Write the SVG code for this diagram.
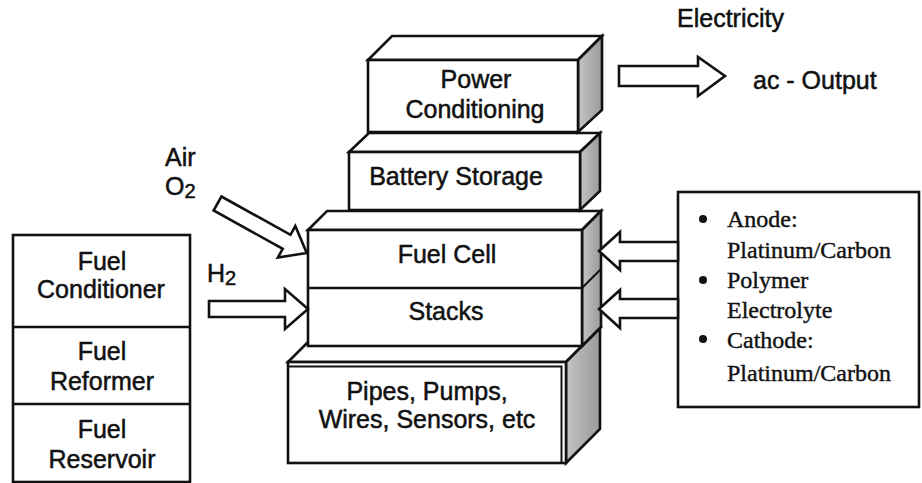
<svg xmlns="http://www.w3.org/2000/svg" width="922" height="483" viewBox="0 0 922 483">
<defs>
<linearGradient id="side" x1="0" y1="0" x2="1" y2="0">
<stop offset="0" stop-color="#c4c4c4"/>
<stop offset="1" stop-color="#9a9a9a"/>
</linearGradient>
</defs>
<style>
.ln{fill:#fff;stroke:#111;stroke-width:2.6;stroke-linejoin:miter}
.sd{fill:url(#side);stroke:#111;stroke-width:2.6}
.ar{fill:#fff;stroke:#111;stroke-width:2.6;stroke-linejoin:miter}
.t{font-family:"Liberation Sans",Arial,sans-serif;font-size:25px;fill:#111;stroke:#111;stroke-width:0.5;text-anchor:middle}
.tl{font-family:"Liberation Sans",Arial,sans-serif;font-size:25px;fill:#111;stroke:#111;stroke-width:0.5}
.s{font-family:"Liberation Serif","Times New Roman",serif;font-size:24px;fill:#111;stroke:#111;stroke-width:0.4}
</style>
<rect width="922" height="483" fill="#fff"/>

<g id="pipes">
<polygon class="ln" points="288,362 322,328 600,328 566,362"/>
<polygon class="sd" points="566,362 600,328 600,429 566,463"/>
<rect class="ln" x="288" y="362" width="278" height="101"/>
<polyline fill="none" stroke="#111" stroke-width="2" points="288,366.5 561.5,366.5 561.5,463"/>
<text class="t" x="427" y="400">Pipes, Pumps,</text>
<text class="t" x="427" y="428">Wires, Sensors, etc</text>
</g>

<g id="fuel-cell-stacks">
<polygon class="ln" points="308,230 327,211 601,211 582,230"/>
<polygon class="sd" points="582,230 601,211 601,327 582,346"/>
<line x1="582" y1="288" x2="601" y2="269" stroke="#111" stroke-width="2"/>
<rect class="ln" x="308" y="230" width="274" height="116"/>
<line x1="308" y1="288" x2="582" y2="288" stroke="#111" stroke-width="2.6"/>
<text class="t" x="447" y="263">Fuel Cell</text>
<text class="t" x="446" y="320">Stacks</text>
</g>

<g id="battery-storage">
<polygon class="ln" points="349,152 369,133 600,133 580,152"/>
<polygon class="sd" points="580,152 600,133 600,191 580,210"/>
<rect class="ln" x="349" y="152" width="231" height="58"/>
<text class="t" x="456" y="185">Battery Storage</text>
</g>

<g id="power-conditioning">
<polygon class="ln" points="368,60 392,36 602,36 578,60"/>
<polygon class="sd" points="578,60 602,36 602,110 578,132"/>
<rect class="ln" x="368" y="60" width="210" height="72"/>
<text class="t" x="476" y="88">Power</text>
<text class="t" x="475" y="118">Conditioning</text>
</g>

<g id="fuel-chain">
<rect class="ln" x="13" y="235" width="177" height="247"/>
<line x1="13" y1="327" x2="190" y2="327" stroke="#111" stroke-width="2.6"/>
<line x1="13" y1="404" x2="190" y2="404" stroke="#111" stroke-width="2.6"/>
<text class="t" x="102" y="270">Fuel</text>
<text class="t" x="101" y="298">Conditioner</text>
<text class="t" x="102" y="360">Fuel</text>
<text class="t" x="102" y="390">Reformer</text>
<text class="t" x="102" y="438">Fuel</text>
<text class="t" x="102" y="468">Reservoir</text>
</g>

<g id="materials">
<rect class="ln" x="678" y="192" width="241" height="215"/>
<circle cx="703" cy="219" r="4" fill="#111"/>
<circle cx="703" cy="280" r="4" fill="#111"/>
<circle cx="703" cy="339" r="4" fill="#111"/>
<text class="s" x="727" y="227">Anode:</text>
<text class="s" x="727" y="258">Platinum/Carbon</text>
<text class="s" x="727" y="288">Polymer</text>
<text class="s" x="727" y="318">Electrolyte</text>
<text class="s" x="727" y="348">Cathode:</text>
<text class="s" x="727" y="381">Platinum/Carbon</text>
</g>

<g id="labels">
<text class="tl" x="677" y="27">Electricity</text>
<text class="tl" x="753" y="89">ac - Output</text>
<text class="tl" x="165" y="166">Air</text>
<text class="tl" x="165" y="195">O<tspan font-size="20" dy="3">2</tspan></text>
<text class="tl" x="207" y="282">H<tspan font-size="20" dy="3">2</tspan></text>
</g>

<g id="connectors">
<polygon class="ar" points="619,66 698,66 698,57 725,76 698,96 698,86 619,86"/>
<polygon class="ar" transform="translate(217.5,203.5) rotate(29)" points="0,-8 79,-8 79,-18 102,0 79,18 79,8 0,8"/>
<polygon class="ar" points="209,301 285,301 285,289 308,309 285,329 285,317 209,317"/>
<polygon class="ar" points="678,242 620,242 620,232 599,251 620,270 620,261 678,261"/>
<polygon class="ar" points="678,299 620,299 620,290 599,309 620,328 620,318 678,318"/>
</g>
</svg>
